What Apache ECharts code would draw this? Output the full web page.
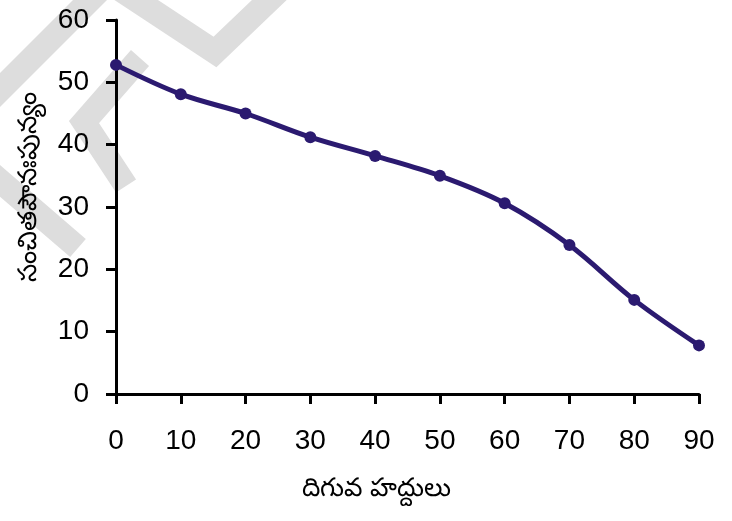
<!DOCTYPE html>
<html lang="te">
<head>
    <meta charset="UTF-8">
    <title>సంచిత పౌనఃపున్య వక్రం</title>
    <script src="https://cdn.jsdelivr.net/npm/echarts@6/dist/echarts.min.js"></script>
    <style>
        html, body { margin: 0; padding: 0; background: #fff; }
        #chart { width: 732px; height: 521px; }
    </style>
</head>
<body>
<div id="chart"></div>
<script type="text/javascript">

    // దిగువ హద్దులు (x) మరియు సంచిత పౌనఃపున్యం (y)
    var lowerLimits = [0, 10, 20, 30, 40, 50, 60, 70, 80, 90];
    var cumFreq = [52.8, 48.1, 45.0, 41.2, 38.2, 35.0, 30.6, 23.9, 15.1, 7.8];
    var yTicks = [0, 10, 20, 30, 40, 50, 60];

    var xName = 'దిగువ హద్దులు';
    var yName = 'సంచితపౌనఃపున్యం';

    var lineColor = '#2b1a70';
    var axisColor = '#000';
    var font = '"Liberation Sans", Arial, sans-serif';

    var points = lowerLimits.map(function (x, i) { return [x, cumFreq[i]]; });

    // light watermark in the background
    var wm = '#dddddd';
    function band(pts) {
        return {
            type: 'polyline', z: -10, silent: true,
            shape: { points: pts },
            style: { stroke: wm, lineWidth: 24, fill: null, lineJoin: 'miter' }
        };
    }

    var chart = echarts.init(document.getElementById('chart'), null, { renderer: 'canvas' });

    chart.setOption({
        animation: false,
        backgroundColor: '#fff',
        graphic: [
            band([[105, -15], [-25, 115]]),
            band([[140, 58], [84, 122], [126, 186]]),
            band([[-15, 168], [78, 248]]),
            band([[118, -12], [215, 52], [285, -15]])
        ],
        grid: { left: 116, right: 33, top: 20, bottom: 127, containLabel: false },
        xAxis: {
            type: 'value',
            min: lowerLimits[0],
            max: lowerLimits[lowerLimits.length - 1],
            interval: 10,
            name: xName,
            nameLocation: 'middle',
            nameGap: 82,
            nameTextStyle: { fontSize: 26, color: '#000', fontFamily: font, padding: [0, 62, 0, 0] },
            axisLine: { show: true, lineStyle: { color: axisColor, width: 3 } },
            axisTick: { show: true, inside: false, length: 10, lineStyle: { color: axisColor, width: 3 } },
            axisLabel: { fontSize: 28, color: '#000', fontFamily: font, margin: 33 },
            splitLine: { show: false }
        },
        yAxis: {
            type: 'value',
            min: yTicks[0],
            max: yTicks[yTicks.length - 1],
            interval: 10,
            name: yName,
            nameLocation: 'middle',
            nameGap: 74,
            nameRotate: 90,
            nameTextStyle: { fontSize: 26, color: '#000', fontFamily: font, padding: [0, 0, 0, 40] },
            axisLine: { show: true, lineStyle: { color: axisColor, width: 3 } },
            axisTick: { show: true, inside: false, length: 10, lineStyle: { color: axisColor, width: 3 } },
            axisLabel: { fontSize: 28, color: '#000', fontFamily: font, margin: 27 },
            splitLine: { show: false }
        },
        series: [{
            type: 'line',
            data: points,
            smooth: 0.35,
            symbol: 'circle',
            symbolSize: 12,
            lineStyle: { color: lineColor, width: 5 },
            itemStyle: { color: lineColor },
            clip: false
        }]
    });

</script>
</body>
</html>
